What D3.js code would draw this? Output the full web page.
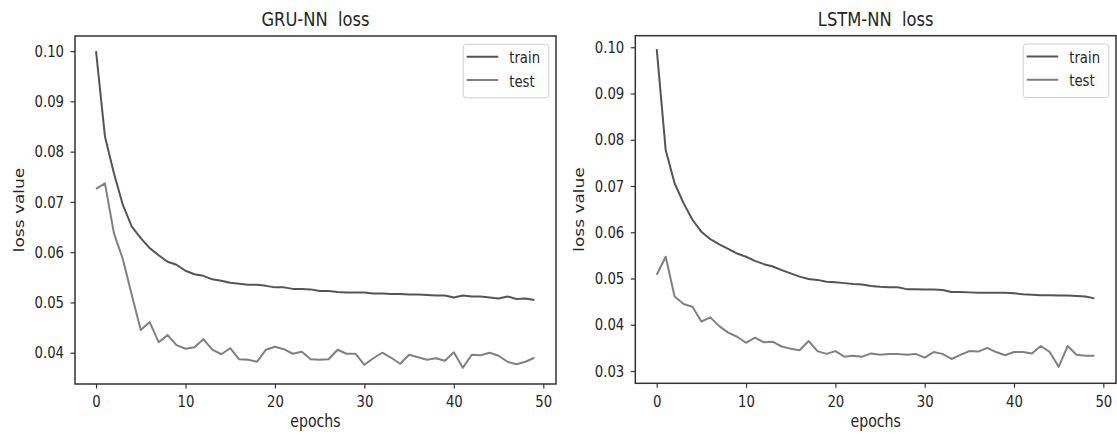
<!DOCTYPE html>
<html>
<head>
<meta charset="utf-8">
<script src="https://cdn.jsdelivr.net/npm/d3@7/dist/d3.min.js"></script>
<style>
	html, body { margin: 0; padding: 0; background: #fff; }
	svg { display: block; }
	text { font-family: "DejaVu Sans", sans-serif; fill: #262626; }
</style>
</head>
<body>
<svg id="chart" width="1117" height="435"></svg>
<script>
// values, one entry per epoch (0..49)
const gruTrain = [0.1000, 0.0830, 0.0757, 0.0694, 0.0651, 0.0628, 0.0608, 0.0594, 0.0581, 0.0575,
	0.0563, 0.0556, 0.0553, 0.0546, 0.0543, 0.0539, 0.0537, 0.0535, 0.0535, 0.0533,
	0.0530, 0.0530, 0.0527, 0.0527, 0.0526, 0.0523, 0.0523, 0.0521, 0.0520, 0.0520,
	0.0520, 0.0518, 0.0518, 0.0517, 0.0517, 0.0516, 0.0516, 0.0515, 0.0514, 0.0514,
	0.0510, 0.0514, 0.0512, 0.0512, 0.0510, 0.0508, 0.0512, 0.0507, 0.0508, 0.0505];
const gruTest = [0.0726, 0.0737, 0.0638, 0.0586, 0.0515, 0.0445, 0.0461, 0.0421, 0.0435, 0.0415,
	0.0408, 0.0411, 0.0427, 0.0406, 0.0397, 0.0409, 0.0387, 0.0386, 0.0382, 0.0406,
	0.0412, 0.0407, 0.0398, 0.0402, 0.0387, 0.0386, 0.0387, 0.0406, 0.0398, 0.0398,
	0.0376, 0.0389, 0.0400, 0.0390, 0.0378, 0.0396, 0.0391, 0.0386, 0.0389, 0.0384,
	0.0401, 0.0370, 0.0396, 0.0395, 0.0400, 0.0394, 0.0382, 0.0377, 0.0382, 0.0390];
const lstmTrain = [0.0996, 0.0778, 0.0706, 0.0663, 0.0627, 0.0601, 0.0585, 0.0574, 0.0564, 0.0554,
	0.0547, 0.0538, 0.0531, 0.0526, 0.0518, 0.0511, 0.0504, 0.0499, 0.0497, 0.0493,
	0.0492, 0.0490, 0.0488, 0.0487, 0.0484, 0.0482, 0.0481, 0.0481, 0.0477, 0.0477,
	0.0476, 0.0476, 0.0475, 0.0471, 0.0471, 0.0470, 0.0469, 0.0469, 0.0469, 0.0469,
	0.0468, 0.0466, 0.0465, 0.0464, 0.0464, 0.0463, 0.0463, 0.0462, 0.0461, 0.0457];
const lstmTest = [0.0508, 0.0547, 0.0461, 0.0445, 0.0439, 0.0407, 0.0416, 0.0397, 0.0383, 0.0374,
	0.0361, 0.0372, 0.0362, 0.0363, 0.0353, 0.0348, 0.0345, 0.0365, 0.0343, 0.0337,
	0.0343, 0.0331, 0.0333, 0.0331, 0.0338, 0.0335, 0.0337, 0.0337, 0.0335, 0.0337,
	0.0329, 0.0341, 0.0337, 0.0326, 0.0335, 0.0343, 0.0342, 0.0350, 0.0341, 0.0334,
	0.0341, 0.0341, 0.0338, 0.0354, 0.0341, 0.0309, 0.0354, 0.0335, 0.0333, 0.0333];

const xTicks = [0, 10, 20, 30, 40, 50];
const gruYTicks = [0.04, 0.05, 0.06, 0.07, 0.08, 0.09, 0.10];
const lstmYTicks = [0.03, 0.04, 0.05, 0.06, 0.07, 0.08, 0.09, 0.10];
const seriesNames = ["train", "test"];

const colors = { train: "#555555", test: "#808080" };
const squeeze = 0.83; // the picture is narrower than tall, so text is squeezed sideways

const panels = [
	{
		title: "GRU-NN  loss", train: gruTrain, test: gruTest, yTicks: gruYTicks,
		left: 75, right: 556, top: 36, bottom: 384,
		xDomain: [-2.35, 51.42], yDomain: [0.03378, 0.1030]
	},
	{
		title: "LSTM-NN  loss", train: lstmTrain, test: lstmTest, yTicks: lstmYTicks,
		left: 635.3, right: 1116, top: 35.7, bottom: 383.3,
		xDomain: [-2.40, 51.42], yDomain: [0.02734, 0.1025]
	}
];

const svg = d3.select("#chart");

panels.forEach((p) => {
	const x = d3.scaleLinear().domain(p.xDomain).range([p.left, p.right]);
	const y = d3.scaleLinear().domain(p.yDomain).range([p.bottom, p.top]);
	const g = svg.append("g");

	// axes
	const xAxis = d3.axisBottom(x).tickValues(xTicks).tickSize(4.5).tickPadding(7.5)
		.tickFormat(d3.format("d"));
	const gx = g.append("g").attr("transform", `translate(0,${p.bottom})`).call(xAxis);

	const yAxis = d3.axisLeft(y).tickValues(p.yTicks).tickSize(4.5).tickPadding(8.75)
		.tickFormat(d3.format(".2f"));
	const gy = g.append("g").attr("transform", `translate(${p.left},0)`).call(yAxis);

	[gx, gy].forEach((a) => {
		a.select(".domain").remove();
		a.selectAll(".tick line").attr("stroke", "#333").attr("stroke-width", 1.2);
		a.selectAll(".tick text")
			.attr("fill", "#262626")
			.style("font-family", "DejaVu Sans")
			.attr("font-size", 16)
			.attr("transform", `scale(${squeeze},1)`);
	});

	// curves
	const line = d3.line().x((d, i) => x(i)).y((d) => y(d));
	seriesNames.forEach((name) => {
		g.append("path")
			.datum(p[name])
			.attr("fill", "none")
			.attr("stroke", colors[name])
			.attr("stroke-width", 2)
			.attr("stroke-linejoin", "round")
			.attr("d", line);
	});

	// frame
	g.append("rect")
		.attr("x", p.left).attr("y", p.top)
		.attr("width", p.right - p.left).attr("height", p.bottom - p.top)
		.attr("fill", "none").attr("stroke", "#333").attr("stroke-width", 1.5);

	// title
	const cx = (p.left + p.right) / 2;
	g.append("text")
		.attr("transform", `translate(${cx},26) scale(${squeeze + 0.03},1)`)
		.attr("text-anchor", "middle")
		.attr("font-size", 19)
		.style("white-space", "pre")
		.text(p.title);

	// axis labels
	g.append("text")
		.attr("transform", `translate(${cx},427) scale(${squeeze},1)`)
		.attr("text-anchor", "middle")
		.attr("font-size", 17)
		.text("epochs");

	g.append("text")
		.attr("transform", `translate(${p.left - 51.5},${(p.top + p.bottom) / 2}) scale(${squeeze},1) rotate(-90)`)
		.attr("text-anchor", "middle")
		.attr("font-size", 17)
		.text("loss value");

	// legend
	const boxW = 85.5, boxH = 53.5;
	const bx = p.right - 7.3 - boxW;
	const by = p.top + 8.3;
	const legend = g.append("g").attr("transform", `translate(${bx},${by})`);
	legend.append("rect")
		.attr("width", boxW).attr("height", boxH).attr("rx", 3)
		.attr("fill", "#fff").attr("stroke", "#d0d0d0").attr("stroke-width", 1);

	const item = legend.selectAll("g.item")
		.data(seriesNames)
		.enter()
		.append("g")
		.attr("class", "item")
		.attr("transform", (d, i) => `translate(0,${12.4 + i * 23.3})`);
	item.append("line")
		.attr("x1", 3.5).attr("x2", 35)
		.attr("stroke", (d) => colors[d]).attr("stroke-width", 2);
	item.append("text")
		.attr("transform", `translate(46,6.5) scale(${squeeze},1)`)
		.attr("font-size", 16)
		.text((d) => d);
});
</script>
</body>
</html>
